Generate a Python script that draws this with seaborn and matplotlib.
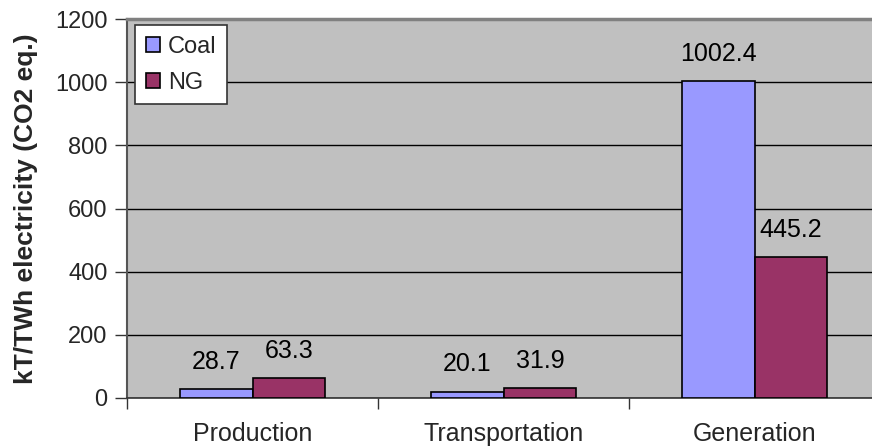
import matplotlib
matplotlib.use("Agg")
import matplotlib.pyplot as plt
import seaborn as sns
import pandas as pd

# Life-cycle emissions per stage, kT/TWh electricity (CO2 eq.)
stages = ["Production", "Transportation", "Generation"]
fuels = ["Coal", "NG"]
coal_values = [28.7, 20.1, 1002.4]
ng_values = [63.3, 31.9, 445.2]
y_ticks = [0, 200, 400, 600, 800, 1000, 1200]

df = pd.DataFrame({
    "stage": stages * 2,
    "fuel": ["Coal"] * len(stages) + ["NG"] * len(stages),
    "value": coal_values + ng_values,
})

sns.set_theme(style="white")
plt.rcParams["font.family"] = ["Liberation Sans", "DejaVu Sans"]

fig = plt.figure(figsize=(8.72, 4.47), dpi=100)
ax = fig.add_axes([127 / 872, 49 / 447, 753 / 872, 379 / 447])
ax.set_facecolor("#C0C0C0")

sns.barplot(
    data=df, x="stage", y="value", hue="fuel", order=stages, hue_order=fuels,
    palette={"Coal": "#9999FF", "NG": "#993366"},
    width=0.58, gap=0, edgecolor="black", linewidth=1.2,
    saturation=1, errorbar=None, ax=ax, zorder=3,
)

# value labels above each bar
for cont, vals in zip(ax.containers, [coal_values, ng_values]):
    ax.bar_label(cont, labels=[f"{v:.1f}" for v in vals], padding=11,
                 fontsize=18, color="black")

ax.set_xlim(-0.5, 2.5)
ax.set_ylim(0, 1200)
ax.set_yticks(y_ticks)
ax.yaxis.grid(True, color="black", linewidth=1.0, zorder=0)
ax.set_axisbelow(True)

ax.set_xlabel("")
ax.set_ylabel("kT/TWh electricity (CO2 eq.)", fontsize=19, fontweight="bold",
              labelpad=12)

# category labels centred, tick marks on the category boundaries
ax.set_xticks([0, 1, 2])
ax.set_xticklabels(stages, fontsize=18)
ax.set_xticks([-0.5, 0.5, 1.5, 2.5], minor=True)
ax.tick_params(axis="x", which="major", length=0, pad=17)
ax.tick_params(axis="x", which="minor", direction="out", length=8,
               width=1, color="#333333", bottom=True)
ax.tick_params(axis="y", which="major", direction="out", length=9, width=1,
               color="#333333", pad=5, labelsize=17, left=True)

for side in ["top", "right"]:
    ax.spines[side].set_color("#808080")
    ax.spines[side].set_linewidth(2.5)
ax.spines["left"].set_color("#555555")
ax.spines["left"].set_linewidth(1.5)
ax.spines["bottom"].set_color("#333333")
ax.spines["bottom"].set_linewidth(1.2)

leg = ax.legend(
    loc="upper left", bbox_to_anchor=(8 / 753, 1 - 6 / 379), borderaxespad=0,
    fontsize=17, frameon=True, fancybox=False, edgecolor="#333333",
    facecolor="white", framealpha=1, handlelength=0.6, handleheight=0.6,
    handletextpad=0.35, labelspacing=0.6, borderpad=0.45, title=None,
)
leg.get_frame().set_linewidth(1.2)
for h in leg.legend_handles:
    h.set_edgecolor("black")
    h.set_linewidth(1.2)

fig.savefig("out.png", dpi=100, facecolor="white")
